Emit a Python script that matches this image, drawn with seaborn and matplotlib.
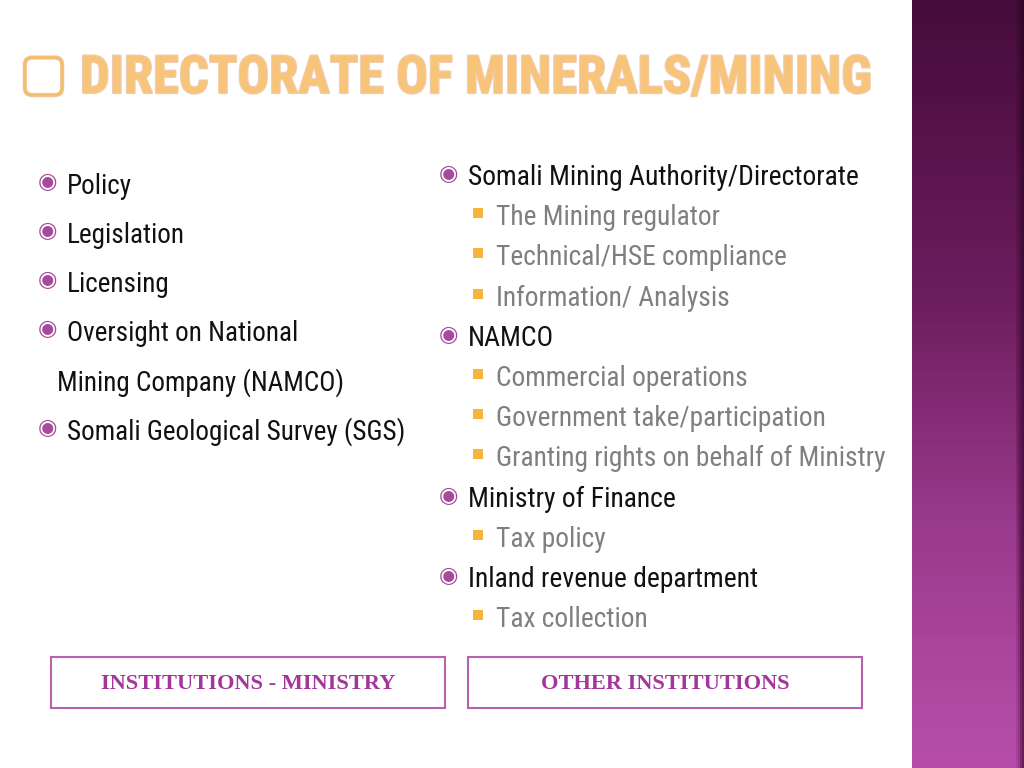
import matplotlib
matplotlib.use("Agg")
import matplotlib.pyplot as plt
import seaborn as sns
import numpy as np
from matplotlib import font_manager as fm
from matplotlib.colors import LinearSegmentedColormap
from matplotlib.patches import Rectangle
import matplotlib.patheffects as pe

# ---------------- content ----------------
title = "DIRECTORATE OF MINERALS/MINING"
left_items = ["Policy", "Legislation", "Licensing", "Oversight on National",
              "Mining Company (NAMCO)", "Somali Geological Survey (SGS)"]
left_has_bullet = [True, True, True, True, False, True]
right_items = ["Somali Mining Authority/Directorate", "The Mining regulator",
               "Technical/HSE compliance", "Information/ Analysis", "NAMCO",
               "Commercial operations", "Government take/participation",
               "Granting rights on behalf of Ministry", "Ministry of Finance",
               "Tax policy", "Inland revenue department", "Tax collection"]
right_levels = [1, 2, 2, 2, 1, 2, 2, 2, 1, 2, 1, 2]
box_labels = ["INSTITUTIONS - MINISTRY", "OTHER INSTITUTIONS"]

# ---------------- style ----------------
sns.set_theme(style="white")
avail = {f.name for f in fm.fontManager.ttflist}
narrow = next((f for f in ["Roboto Condensed", "Liberation Sans Narrow",
                           "DejaVu Sans Condensed", "Open Sans Condensed",
                           "Liberation Sans"] if f in avail), "DejaVu Sans")
serif = next((f for f in ["Liberation Serif", "DejaVu Serif"] if f in avail),
             "DejaVu Serif")
plt.rcParams['font.family'] = [narrow, 'DejaVu Sans']

fig = plt.figure(figsize=(10.24, 7.68), dpi=100)
fig.patch.set_facecolor("white")
ax = fig.add_axes([0, 0, 1, 1])
ax.set_xlim(0, 1024)
ax.set_ylim(768, 0)
ax.axis("off")
renderer = fig.canvas.get_renderer()


def fit_size(text, width_px, **kw):
    t = ax.text(0, 0, text, fontsize=20, **kw)
    w = t.get_window_extent(renderer).width
    t.remove()
    return 20 * width_px / w


# ---------------- right stripe (gradient via seaborn heatmap) ----------------
stripe_ax = fig.add_axes([912 / 1024, 0, 112 / 1024, 1])
grad = np.linspace(0, 1, 200)[:, None] * np.ones((1, 56))
shade = np.ones(56)
shade[-4:] = [0.9, 0.8, 0.7, 0.6]
grad = grad * shade[None, :] - (1 - shade[None, :]) * 0.6
cmap = LinearSegmentedColormap.from_list(
    "stripe", ["#2e0626", "#4c0e40", "#6a1c5c", "#9a3a8c", "#b64ea9"])
sns.heatmap(grad, ax=stripe_ax, cmap=cmap, cbar=False, vmin=-0.25, vmax=1,
            xticklabels=False, yticklabels=False)
stripe_ax.axis("off")

# ---------------- title ----------------
tsize = fit_size(title, 793, fontweight="bold")
ax.text(80, 93, title, fontsize=tsize, fontweight="bold", color="#f8c47a",
        va="baseline", ha="left",
        path_effects=[pe.withStroke(linewidth=1.6, foreground="#efcdb0")])
ax.text(43.5, 75, "\u25A2", fontsize=38, color="#f5bd6c", va="center",
        ha="center", family=["DejaVu Sans"],
        path_effects=[pe.withStroke(linewidth=1.0, foreground="#efcdb0")])

# ---------------- left column ----------------
lsize = fit_size(left_items[-1], 338)
left_base = [194, 243, 292, 341, 391, 440]
for txt, bul, yb in zip(left_items, left_has_bullet, left_base):
    ax.text(67 if bul else 57, yb, txt, fontsize=lsize, color="#111111",
            va="baseline", ha="left")
    if bul:
        ax.text(47, yb - 12, "\u25C9", fontsize=16, color="#a64a9c",
                va="center", ha="center", family=["DejaVu Sans"])

# ---------------- right column ----------------
r1size = fit_size(right_items[0], 391)
r2size = fit_size(right_items[7], 388)
right_base = [185 + 40.2 * i for i in range(len(right_items))]
for txt, lvl, yb in zip(right_items, right_levels, right_base):
    if lvl == 1:
        ax.text(468, yb, txt, fontsize=r1size, color="#111111",
                va="baseline", ha="left")
        ax.text(448, yb - 11, "\u25C9", fontsize=16, color="#a64a9c",
                va="center", ha="center", family=["DejaVu Sans"])
    else:
        ax.text(496, yb, txt, fontsize=r2size, color="#7f7f7f",
                va="baseline", ha="left")
        ax.add_patch(Rectangle((473, yb - 17), 10, 10, color="#f5b43c",
                               lw=0))

# ---------------- bottom boxes ----------------
box_x = [51, 468]
bsize = fit_size(box_labels[0], 292, fontweight="bold", family=[serif])
for bx, lab in zip(box_x, box_labels):
    ax.add_patch(Rectangle((bx, 657), 394, 51, fill=False,
                           edgecolor="#b862ae", lw=1.5))
    ax.text(bx + 197, 684, lab, fontsize=bsize, fontweight="bold",
            color="#a3369a", ha="center", va="center", family=[serif])

fig.savefig("out.png", dpi=100, facecolor="white")
